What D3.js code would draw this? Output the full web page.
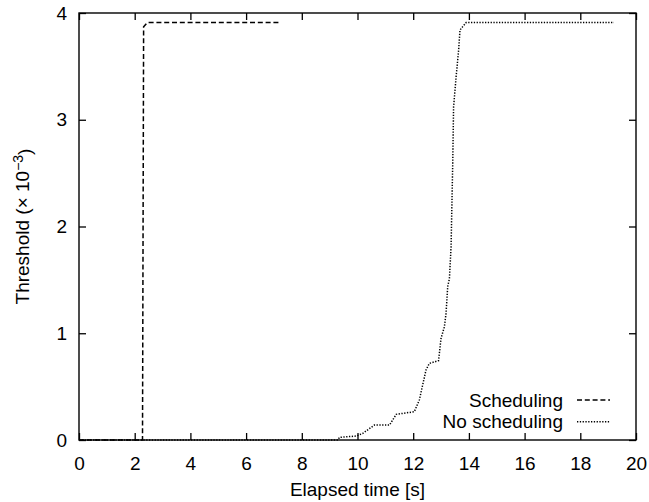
<!DOCTYPE html>
<html>
<head>
<meta charset="utf-8">
<script src="https://cdn.jsdelivr.net/npm/d3@7"></script>
<style>
  body { margin: 0; background: #fff; }
  svg { display: block; }
  text { font-family: "Liberation Sans", Arial, sans-serif; fill: #000; }
</style>
</head>
<body>
<svg id="chart"></svg>
<script>
// Data (x = elapsed time [s], y = threshold x 1e-3)
const xTicks = [0, 2, 4, 6, 8, 10, 12, 14, 16, 18, 20];
const yTicks = [0, 1, 2, 3, 4];

const schedTime = [0, 2.28, 2.32, 2.45, 7.23];
const schedThreshold = [0, 0, 3.87, 3.91, 3.91];

const noSchedTime = [0, 9.3, 9.35, 9.95, 10.19, 10.61, 11.15, 11.39, 12.04, 12.22, 12.46, 12.58, 12.91,
  13.0, 13.12, 13.18, 13.24, 13.3, 13.36, 13.4, 13.42, 13.45, 13.54, 13.63, 13.68, 13.77, 13.9, 19.21];
const noSchedThreshold = [0, 0, 0.025, 0.037, 0.062, 0.14, 0.14, 0.24, 0.265, 0.375, 0.656, 0.718, 0.743,
  0.953, 1.06, 1.19, 1.44, 1.51, 1.81, 2.34, 2.6, 3.12, 3.4, 3.65, 3.84, 3.87, 3.91, 3.91];

const seriesNames = ["Scheduling", "No scheduling"];

const dimensions = {
    width: 649,
    height: 502,
    margin: { top: 13, right: 13, bottom: 62, left: 79 }
};
const innerW = dimensions.width - dimensions.margin.left - dimensions.margin.right;
const innerH = dimensions.height - dimensions.margin.top - dimensions.margin.bottom;

const svg = d3.select("#chart")
    .attr("width", dimensions.width)
    .attr("height", dimensions.height);

const g = svg.append("g")
    .attr("transform", `translate(${dimensions.margin.left},${dimensions.margin.top})`);

const xScale = d3.scaleLinear().domain([0, 20]).range([0, innerW]);
const yScale = d3.scaleLinear().domain([0, 4]).range([innerH, 0]);

const fontSize = "19px";
const tickLen = 7;

// ticks (inside, mirrored like gnuplot)
function styleAxis(sel) {
    sel.select(".domain").remove();
    sel.selectAll(".tick line").attr("stroke", "#000").attr("stroke-width", 1.3);
    sel.selectAll(".tick text").style("font-size", fontSize);
}

g.append("g")
    .attr("transform", `translate(0,${innerH})`)
    .call(d3.axisBottom(xScale).tickValues(xTicks).tickFormat(d3.format("d"))
        .tickSizeInner(-tickLen).tickSizeOuter(0).tickPadding(17))
    .call(styleAxis);

g.append("g")
    .call(d3.axisTop(xScale).tickValues(xTicks).tickSizeInner(-tickLen).tickSizeOuter(0).tickFormat(""))
    .call(styleAxis);

g.append("g")
    .call(d3.axisLeft(yScale).tickValues(yTicks).tickFormat(d3.format("d"))
        .tickSizeInner(-tickLen).tickSizeOuter(0).tickPadding(12))
    .call(styleAxis);

g.append("g")
    .attr("transform", `translate(${innerW},0)`)
    .call(d3.axisRight(yScale).tickValues(yTicks).tickSizeInner(-tickLen).tickSizeOuter(0).tickFormat(""))
    .call(styleAxis);

// frame
g.append("rect")
    .attr("width", innerW)
    .attr("height", innerH)
    .attr("fill", "none")
    .attr("stroke", "#000")
    .attr("stroke-width", 1.4);

// lines
const line = d3.line().x(d => xScale(d[0])).y(d => yScale(d[1]));
const schedData = schedTime.map((t, i) => [t, schedThreshold[i]]);
const noSchedData = noSchedTime.map((t, i) => [t, noSchedThreshold[i]]);

const dashes = ["5,2.8", "1.3,1.5"];

g.append("path")
    .datum(noSchedData)
    .attr("d", line)
    .attr("fill", "none")
    .attr("stroke", "#000")
    .attr("stroke-width", 1.5)
    .attr("stroke-dasharray", dashes[1]);

g.append("path")
    .datum(schedData)
    .attr("d", line)
    .attr("fill", "none")
    .attr("stroke", "#000")
    .attr("stroke-width", 1.5)
    .attr("stroke-dasharray", dashes[0]);

// legend
const legend = g.append("g")
    .attr("transform", `translate(${563 - dimensions.margin.left},${400 - dimensions.margin.top})`);

seriesNames.forEach((name, i) => {
    legend.append("text")
        .attr("x", 0)
        .attr("y", i * 21.7)
        .attr("dy", "0.35em")
        .attr("text-anchor", "end")
        .style("font-size", fontSize)
        .text(name);
    legend.append("line")
        .attr("x1", 14)
        .attr("x2", 47)
        .attr("y1", i * 21.7)
        .attr("y2", i * 21.7)
        .attr("stroke", "#000")
        .attr("stroke-width", 1.5)
        .attr("stroke-dasharray", dashes[i]);
});

// axis titles
svg.append("text")
    .attr("x", dimensions.margin.left + innerW / 2)
    .attr("y", 496)
    .attr("text-anchor", "middle")
    .style("font-size", fontSize)
    .text("Elapsed time [s]");

const yTitle = svg.append("text")
    .attr("transform", `translate(29,${dimensions.margin.top + innerH / 2}) rotate(-90)`)
    .attr("text-anchor", "middle")
    .style("font-size", fontSize);
yTitle.append("tspan").text("Threshold (× 10");
yTitle.append("tspan").attr("dy", "-0.45em").style("font-size", "14px").text("−3");
yTitle.append("tspan").attr("dy", "0.45em").text(")");
</script>
</body>
</html>
